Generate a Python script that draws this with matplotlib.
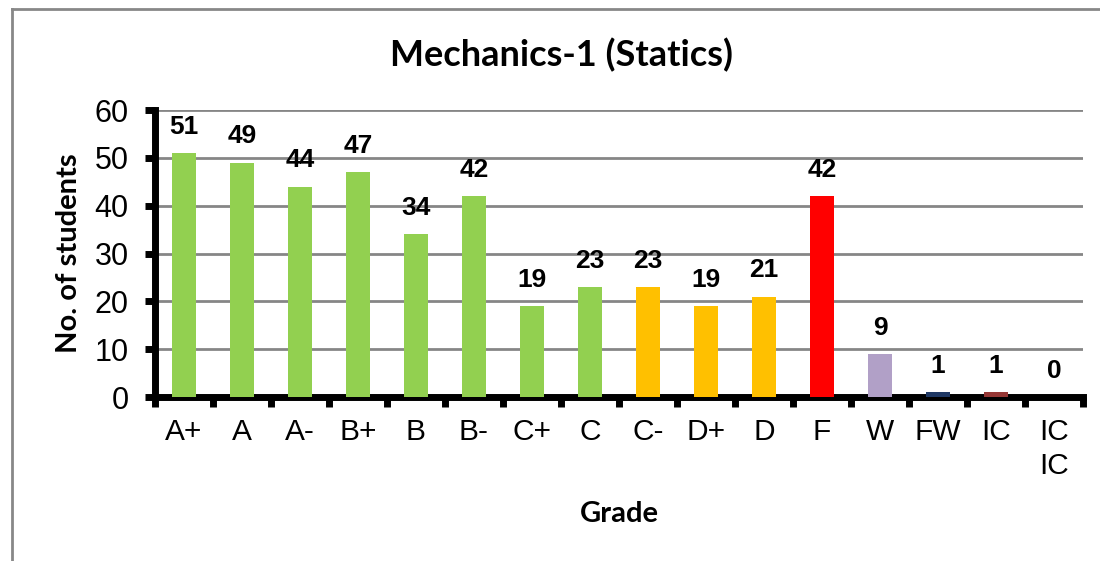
import matplotlib
matplotlib.use("Agg")
import matplotlib.pyplot as plt
from matplotlib.lines import Line2D

grades = ["A+", "A", "A-", "B+", "B", "B-", "C+", "C", "C-", "D+", "D", "F", "W", "FW", "IC", "IC\nIC"]
counts = [51, 49, 44, 47, 34, 42, 19, 23, 23, 19, 21, 42, 9, 1, 1, 0]
colors = ["#92D050"] * 8 + ["#FFC000"] * 3 + ["#FF0000", "#B1A0C7", "#1F3864", "#953735", "#4F81BD"]
title = "Mechanics-1 (Statics)"
xlabel = "Grade"
ylabel = "No. of students"
yticks = [0, 10, 20, 30, 40, 50, 60]

fig = plt.figure(figsize=(11, 5.61), dpi=100)
ax = fig.add_axes([0.1409, 0.2923, 0.9845 - 0.1409, 0.8039 - 0.2923])

x = list(range(len(grades)))
ax.bar(x, counts, width=0.4, color=colors, zorder=3)
for xi, v in zip(x, counts):
    ax.text(xi, v + 3.0, str(v), ha="center", va="bottom", fontsize=19,
            fontweight="bold", family="Liberation Sans", zorder=4)

ax.set_xlim(-0.5, len(grades) - 0.5)
ax.set_ylim(0, 60)
ax.set_yticks(yticks)
ax.set_yticklabels([str(t) for t in yticks], family="Liberation Sans", fontsize=22)
ax.yaxis.grid(True, color="#868686", linewidth=2, zorder=1)
ax.set_axisbelow(True)

ax.set_xticks(x)
ax.set_xticklabels(grades, family="Liberation Sans", fontsize=21.5, linespacing=1.3)
ax.tick_params(axis="x", length=0, pad=15)
ax.set_xticks([i - 0.5 for i in range(len(grades) + 1)], minor=True)
ax.tick_params(axis="x", which="minor", length=7, width=5, direction="out", color="black")
ax.tick_params(axis="y", length=7, width=5, direction="out", color="black", pad=12)

for s in ["top", "right"]:
    ax.spines[s].set_visible(False)
for s in ["left", "bottom"]:
    ax.spines[s].set_linewidth(5)
    ax.spines[s].set_capstyle("projecting")

ax.set_ylabel(ylabel, family="Lato", fontweight="bold", fontsize=21, labelpad=9)
ax.set_xlabel(xlabel, family="Lato", fontweight="bold", fontsize=21, labelpad=15)
fig.text(562 / 1100, 1 - 55 / 561, title, ha="center", va="center", family="Lato",
         fontweight="bold", fontsize=26)

fig.add_artist(Line2D([12 / 1100, 1.0], [1 - 9 / 561, 1 - 9 / 561], color="#888888", linewidth=2,
                      transform=fig.transFigure))
fig.add_artist(Line2D([12 / 1100, 12 / 1100], [1 - 9 / 561, 0], color="#888888", linewidth=2,
                      transform=fig.transFigure))

fig.savefig("out.png", dpi=100)
